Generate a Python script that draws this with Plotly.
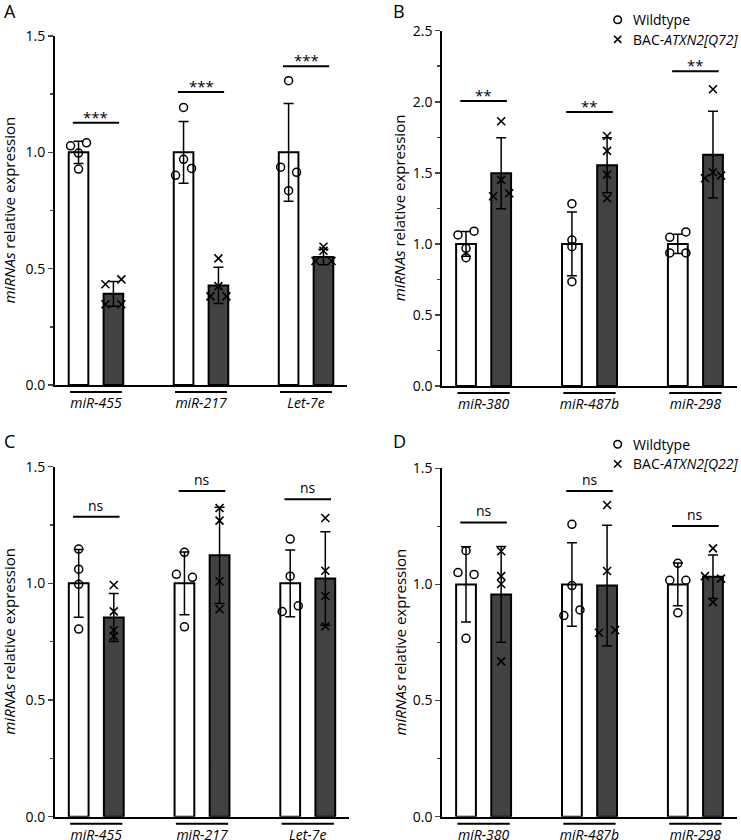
import plotly.graph_objects as go

# ---------------- data ----------------
cats_AC = ["miR-455", "miR-217", "Let-7e"]
cats_BD = ["miR-380", "miR-487b", "miR-298"]

A_wt_mean = [1.0, 1.0, 1.0]
A_wt_sd = [0.048, 0.133, 0.21]
A_tg_mean = [0.392, 0.428, 0.550]
A_tg_sd = [0.053, 0.078, 0.033]
A_wt_pts = [[1.028, 1.041, 0.997, 0.928], [1.193, 0.970, 0.901, 0.931], [1.308, 0.936, 0.914, 0.835]]
A_tg_pts = [[0.433, 0.454, 0.347, 0.347], [0.544, 0.425, 0.381, 0.381], [0.594, 0.577, 0.533, 0.533]]
A_sig_y = [1.127, 1.259, 1.370]
A_sig = ["***", "***", "***"]

B_wt_mean = [1.0, 1.0, 1.0]
B_wt_sd = [0.087, 0.225, 0.067]
B_tg_mean = [1.497, 1.553, 1.628]
B_tg_sd = [0.249, 0.193, 0.305]
B_wt_pts = [[1.063, 1.089, 0.969, 0.903], [1.283, 1.027, 0.980, 0.734], [1.046, 1.084, 0.936, 0.936]]
B_tg_pts = [[1.863, 1.450, 1.335, 1.356], [1.759, 1.654, 1.487, 1.321], [2.088, 1.504, 1.462, 1.480]]
B_sig_y = [2.006, 1.928, 2.215]
B_sig = ["**", "**", "**"]

C_wt_mean = [1.0, 1.0, 1.0]
C_wt_sd = [0.145, 0.134, 0.143]
C_tg_mean = [0.854, 1.120, 1.021]
C_tg_sd = [0.103, 0.206, 0.200]
C_wt_pts = [[1.147, 1.061, 0.996, 0.804], [1.133, 1.039, 1.026, 0.814], [1.190, 1.031, 0.879, 0.904]]
C_tg_pts = [[0.993, 0.880, 0.799, 0.774], [1.323, 1.269, 1.009, 0.889], [1.280, 1.054, 0.946, 0.816]]
C_sig_y = [1.286, 1.396, 1.360]
C_sig = ["ns", "ns", "ns"]

D_wt_mean = [1.0, 1.0, 1.0]
D_wt_sd = [0.162, 0.180, 0.092]
D_tg_mean = [0.957, 0.995, 1.033]
D_tg_sd = [0.206, 0.260, 0.094]
D_wt_pts = [[1.051, 1.043, 1.145, 0.768], [1.259, 0.995, 0.866, 0.890], [1.091, 1.018, 1.018, 0.878]]
D_tg_pts = [[1.143, 1.036, 1.002, 0.669], [1.342, 1.058, 0.792, 0.804], [1.155, 1.036, 1.025, 0.924]]
D_sig_y = [1.267, 1.402, 1.252]
D_sig = ["ns", "ns", "ns"]

# horizontal jitter pattern of the dots (-1 left, 0 centre, +1 right)
A_wt_jit = [[-1, 1, 0, 0], [0, 0, -1, 1], [0, -1, 1, 0]]
A_tg_jit = [[-1, 1, -1, 1], [0, 0, -1, 1], [0, 0, -1, 1]]
B_wt_jit = [[-1, 1, 0, 0], [0, 0, 0, 0], [-1, 1, -1, 1]]
B_tg_jit = [[0, 0, -1, 1], [0, 0, 0, 0], [0, 0, -1, 1]]
C_wt_jit = [[0, 0, 0, 0], [0, -1, 1, 0], [0, 0, -1, 1]]
C_tg_jit = [[0, 0, 0, 0], [0, 0, 0, 0], [0, 0, 0, 0]]
D_wt_jit = [[-1, 1, 0, 0], [0, 0, -1, 1], [0, -1, 1, 0]]
D_tg_jit = [[0, 0, 0, 0], [0, 0, -1, 1], [0, -1, 1, 0]]

# ---------------- styling ----------------
FONT = "Open Sans"
DARK = "#424242"
W, H = 741, 840
OFF = 0.166
BW = 0.187
JIT = 0.076

fig = go.Figure()

panels = [
    dict(key="", letter="A", cats=cats_AC, wm=A_wt_mean, ws=A_wt_sd, tm=A_tg_mean, ts=A_tg_sd,
         wp=A_wt_pts, tp=A_tg_pts, wj=A_wt_jit, tj=A_tg_jit, sy=A_sig_y, st=A_sig,
         xd=[55, 347], yd=[36, 385], ymax=1.5, leg=None, lx=2, ly=-3, tx=8),
    dict(key="2", letter="B", cats=cats_BD, wm=B_wt_mean, ws=B_wt_sd, tm=B_tg_mean, ts=B_tg_sd,
         wp=B_wt_pts, tp=B_tg_pts, wj=B_wt_jit, tj=B_tg_jit, sy=B_sig_y, st=B_sig,
         xd=[442.3, 736.7], yd=[30.7, 386], ymax=2.5, leg=("BAC-<i>ATXN2[Q72]</i>", 19.7),
         lx=391, ly=-3, tx=399),
    dict(key="3", letter="C", cats=cats_AC, wm=C_wt_mean, ws=C_wt_sd, tm=C_tg_mean, ts=C_tg_sd,
         wp=C_wt_pts, tp=C_tg_pts, wj=C_wt_jit, tj=C_tg_jit, sy=C_sig_y, st=C_sig,
         xd=[55, 349], yd=[466.7, 816.7], ymax=1.5, leg=None, lx=2, ly=427, tx=9),
    dict(key="4", letter="D", cats=cats_BD, wm=D_wt_mean, ws=D_wt_sd, tm=D_tg_mean, ts=D_tg_sd,
         wp=D_wt_pts, tp=D_tg_pts, wj=D_wt_jit, tj=D_tg_jit, sy=D_sig_y, st=D_sig,
         xd=[442.3, 736.7], yd=[468.3, 816.7], ymax=1.5, leg=("BAC-<i>ATXN2[Q22]</i>", 444.3),
         lx=391, ly=427, tx=399),
]

shapes = []
annotations = []
layout_axes = {}


def px2x(v):
    return v / W


def px2y(v):
    return 1 - v / H


for p in panels:
    k = p["key"]
    xa, ya = "x" + k, "y" + k
    idx = list(range(len(p["cats"])))
    xw = [i - OFF for i in idx]
    xt = [i + OFF for i in idx]
    fig.add_trace(go.Bar(x=xw, y=p["wm"], width=BW, xaxis=xa, yaxis=ya, showlegend=False,
                         marker=dict(color="white", line=dict(color="black", width=2)),
                         error_y=dict(type="data", array=p["ws"], color="black", thickness=1.5, width=5)))
    fig.add_trace(go.Bar(x=xt, y=p["tm"], width=BW, xaxis=xa, yaxis=ya, showlegend=False,
                         marker=dict(color=DARK, line=dict(color="black", width=2)),
                         error_y=dict(type="data", array=p["ts"], color="black", thickness=1.5, width=5)))
    px_, py_ = [], []
    for i, (vals, jit) in enumerate(zip(p["wp"], p["wj"])):
        for v, j in zip(vals, jit):
            px_.append(xw[i] + j * JIT)
            py_.append(v)
    qx_, qy_ = [], []
    for i, (vals, jit) in enumerate(zip(p["tp"], p["tj"])):
        for v, j in zip(vals, jit):
            qx_.append(xt[i] + j * JIT)
            qy_.append(v)
    fig.add_trace(go.Scatter(x=px_, y=py_, mode="markers", xaxis=xa, yaxis=ya, cliponaxis=False,
                             name="Wildtype", showlegend=False,
                             marker=dict(symbol="circle-open", size=8, color="black", line=dict(width=1.5))))
    fig.add_trace(go.Scatter(x=qx_, y=qy_, mode="markers", xaxis=xa, yaxis=ya, cliponaxis=False,
                             name="transgenic", showlegend=False,
                             marker=dict(symbol="x-thin-open", size=8, color="black", line=dict(width=1.6))))

    # significance bars
    for i, (y, t) in enumerate(zip(p["sy"], p["st"])):
        shapes.append(dict(type="line", xref=xa, yref=ya, x0=i - 0.22, x1=i + 0.22, y0=y, y1=y,
                           line=dict(color="black", width=2)))
        annotations.append(dict(x=i, y=y, xref=xa, yref=ya, text=t, showarrow=False,
                                yanchor="bottom", yshift=(-6 if "*" in t else 0),
                                font=dict(family=FONT, size=15 if "*" in t else 14, color="black")))
        # category underline
        shapes.append(dict(type="line", xref=xa, yref=ya + " domain", x0=i - 0.247, x1=i + 0.247,
                           y0=-0.02, y1=-0.02, line=dict(color="black", width=2)))

    # panel letter
    annotations.append(dict(x=px2x(p["lx"]), y=px2y(p["ly"]), xref="paper", yref="paper",
                            xanchor="left", yanchor="top", text=p["letter"], showarrow=False,
                            font=dict(family=FONT, size=18, color="black")))
    # y-axis title
    annotations.append(dict(x=px2x(p["tx"]), y=px2y((p["yd"][0] + p["yd"][1]) / 2), xref="paper", yref="paper",
                            xanchor="center", yanchor="middle", textangle=-90, showarrow=False,
                            text="<i>miRNAs</i> relative expression",
                            font=dict(family=FONT, size=15, color="black")))

    # legend (drawn glyphs + text)
    if p["leg"]:
        label, ly0 = p["leg"]
        cx, r = 617.7, 3.8
        ly1 = ly0 + 19.6
        shapes.append(dict(type="circle", xref="paper", yref="paper",
                           x0=px2x(cx - r), x1=px2x(cx + r), y0=px2y(ly0 + r), y1=px2y(ly0 - r),
                           line=dict(color="black", width=1.5)))
        shapes.append(dict(type="line", xref="paper", yref="paper",
                           x0=px2x(cx - 3.6), x1=px2x(cx + 3.6), y0=px2y(ly1 - 3.6), y1=px2y(ly1 + 3.6),
                           line=dict(color="black", width=1.6)))
        shapes.append(dict(type="line", xref="paper", yref="paper",
                           x0=px2x(cx - 3.6), x1=px2x(cx + 3.6), y0=px2y(ly1 + 3.6), y1=px2y(ly1 - 3.6),
                           line=dict(color="black", width=1.6)))
        annotations.append(dict(x=px2x(630.5), y=px2y(ly0), xref="paper", yref="paper",
                                xanchor="left", yanchor="middle", text="Wildtype", showarrow=False,
                                font=dict(family=FONT, size=14, color="black")))
        annotations.append(dict(x=px2x(630.5), y=px2y(ly1), xref="paper", yref="paper",
                                xanchor="left", yanchor="middle", text=label, showarrow=False,
                                font=dict(family=FONT, size=14, color="black")))

    xname = "xaxis" + k
    yname = "yaxis" + k
    layout_axes[xname] = dict(domain=[px2x(p["xd"][0]), px2x(p["xd"][1])], range=[-0.39, 2.39],
                              anchor=ya, showline=True, linewidth=2, linecolor="black",
                              showgrid=False, zeroline=False, ticks="", automargin=False,
                              tickvals=idx, ticktext=["<i>" + c + "</i>" for c in p["cats"]],
                              ticklabelstandoff=4,
                              tickfont=dict(family=FONT, size=14, color="black"))
    layout_axes[yname] = dict(domain=[1 - p["yd"][1] / H, 1 - p["yd"][0] / H], range=[0, p["ymax"]],
                              anchor=xa, showline=True, linewidth=2, linecolor="black", automargin=False,
                              showgrid=False, zeroline=False, ticks="outside", ticklen=5, tickwidth=1.5,
                              dtick=0.5, tickformat=".1f",
                              minor=dict(dtick=0.25, ticks="outside", ticklen=3, tickwidth=1.5, showgrid=False),
                              tickfont=dict(family=FONT, size=14, color="black"))

fig.update_layout(
    width=W, height=H, margin=dict(l=0, r=0, t=0, b=0, autoexpand=False),
    paper_bgcolor="white", plot_bgcolor="white",
    font=dict(family=FONT, color="black"),
    barmode="overlay", showlegend=False, hovermode=False,
    shapes=shapes, annotations=annotations,
    **layout_axes,
)

fig.write_html("out.html", config={"displayModeBar": False, "staticPlot": True},
               post_script="document.body.style.margin='0px';document.body.style.padding='0px';")
